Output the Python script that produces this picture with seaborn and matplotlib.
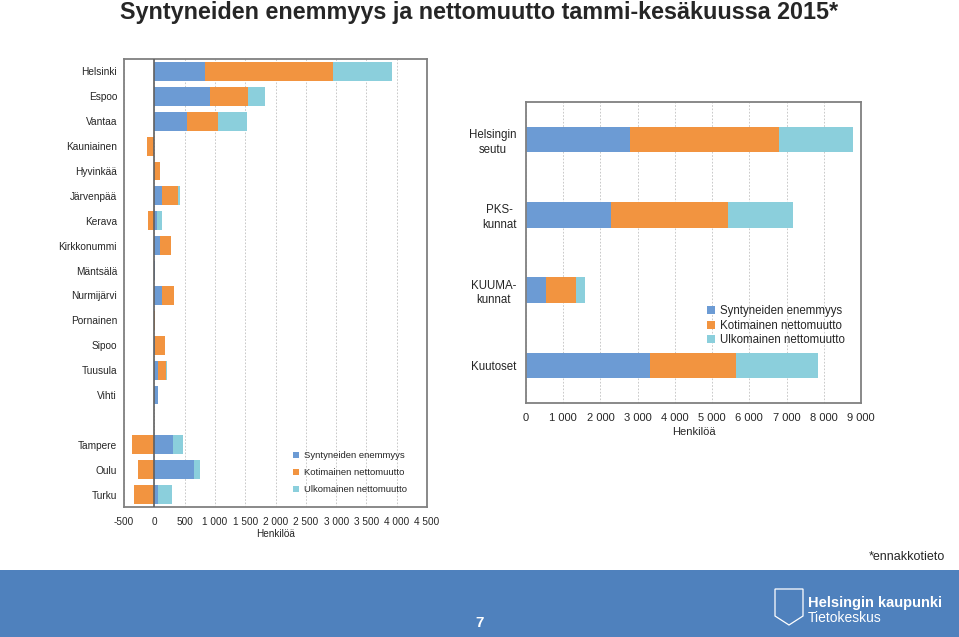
import pandas as pd
import matplotlib.pyplot as plt
import seaborn as sns
from matplotlib.patches import Patch, Rectangle, Polygon

# Kunnat (vasen kuvio), tyhjä rivi Vihdin ja Tampereen välissä
kunnat = ["Helsinki", "Espoo", "Vantaa", "Kauniainen", "Hyvinkää", "Järvenpää", "Kerava",
          "Kirkkonummi", "Mäntsälä", "Nurmijärvi", "Pornainen", "Sipoo", "Tuusula", "Vihti",
          "Tampere", "Oulu", "Turku"]
jarjestys = kunnat[:14] + [" "] + kunnat[14:]
synt = [830, 925, 545, 0, 0, 121, 40, 94, 10, 121, 3, 5, 55, 55, 315, 662, 66]
koti = [2120, 620, 500, -127, 99, 275, -110, 176, 5, 198, 2, 171, 138, 0, -370, -270, -331]
ulko = [980, 275, 485, 0, 0, 28, 80, 5, 0, 0, 0, 0, 16, 0, 165, 94, 227]

# Alueet (oikea kuvio)
alueet = ["Helsingin\nseutu", "PKS-\nkunnat", "KUUMA-\nkunnat", "Kuutoset"]
synt_r = [2794, 2284, 528, 3331]
koti_r = [3994, 3143, 824, 2311]
ulko_r = [1988, 1746, 233, 2212]

sarjat = ["Syntyneiden enemmyys", "Kotimainen nettomuutto", "Ulkomainen nettomuutto"]
varit = ["#6C9BD4", "#F29440", "#8BCFDC"]

sns.set_style("white")
plt.rcParams["font.family"] = ["Liberation Sans", "DejaVu Sans"]

fig = plt.figure(figsize=(9.59, 6.37), dpi=100)
ax1 = fig.add_axes([0.1293, 0.2041, 0.316, 0.7033])
ax2 = fig.add_axes([0.5485, 0.3673, 0.3493, 0.4725])


def pinottu(ax, nimet, arvot, order, leveys):
    # pinotaan positiiviset ja negatiiviset erikseen, piirretään kumulatiiviset summat päällekkäin
    df = pd.DataFrame(dict(zip(sarjat, arvot)))
    pos = df.clip(lower=0).cumsum(axis=1)
    neg = df.clip(upper=0).cumsum(axis=1)
    for s, c in reversed(list(zip(sarjat, varit))):
        for osa in (pos, neg):
            sns.barplot(x=osa[s].values, y=nimet, order=order, color=c, saturation=1,
                        width=leveys, errorbar=None, linewidth=0, ax=ax)


pinottu(ax1, kunnat, [synt, koti, ulko], jarjestys, 0.76)
pinottu(ax2, alueet, [synt_r, koti_r, ulko_r], alueet, 0.34)

kehys = "#808080"
for ax, xmin, xmax, step, koko in [(ax1, -500, 4500, 500, 7.2), (ax2, 0, 9000, 1000, 8)]:
    ticks = list(range(xmin, xmax + 1, step))
    ax.set_xlim(xmin, xmax)
    ax.set_xticks(ticks)
    ax.set_xticklabels([f"{t:,}".replace(",", "\u00a0") for t in ticks])
    ax.grid(axis="x", color="#c0c0c0", linestyle=(0, (2, 2)), linewidth=0.6)
    ax.set_axisbelow(True)
    ax.set_ylabel("")
    ax.set_xlabel("Henkilöä", fontsize=koko)
    for sp in ax.spines.values():
        sp.set_visible(True)
        sp.set_color(kehys)
        sp.set_linewidth(1.3)
    ax.tick_params(axis="x", direction="out", length=3, width=1, color=kehys, labelsize=koko, pad=4)

ax1.xaxis.labelpad = 1.5
ax2.xaxis.labelpad = 3
ax1.tick_params(axis="y", length=0, labelsize=7.3, pad=5)
ax2.tick_params(axis="y", length=0, labelsize=8.3, pad=7)
ax1.axvline(0, color="#606060", linewidth=1.2, zorder=3)
for t in ax2.get_yticklabels():
    t.set_multialignment("center")
    t.set_linespacing(1.3)

kahvat = [Patch(facecolor=c, edgecolor="none", label=s) for s, c in zip(sarjat, varit)]
ax1.legend(handles=kahvat, loc="lower left", bbox_to_anchor=(0.53, 0.01), frameon=False,
           fontsize=6.8, handlelength=0.6, handleheight=0.6, handletextpad=0.5, labelspacing=0.85)
ax2.legend(handles=kahvat, loc="lower left", bbox_to_anchor=(0.51, 0.155), frameon=False,
           fontsize=8.3, handlelength=0.7, handleheight=0.7, handletextpad=0.4, labelspacing=0.2)

fig.text(0.4995, 0.98, "Syntyneiden enemmyys ja nettomuutto tammi-kesäkuussa 2015*",
         ha="center", va="center", fontsize=16.8, fontweight="bold")
fig.text(0.9854, 0.1256, "*ennakkotieto", ha="right", va="center", fontsize=9)

# alapalkki
fig.patches.append(Rectangle((0, 0), 1, 67 / 637, transform=fig.transFigure,
                             facecolor="#4F81BD", edgecolor="none"))
fig.text(480 / 959, 1 - 623 / 637, "7", color="white", fontsize=11, fontweight="bold",
         ha="center", va="center")
kilpi = [(775, 589), (803, 589), (803, 616), (789, 625), (775, 616)]
fig.patches.append(Polygon([(x / 959, 1 - y / 637) for x, y in kilpi], closed=True,
                           transform=fig.transFigure, fill=False, edgecolor="white", linewidth=0.9))
fig.text(808 / 959, 1 - 603 / 637, "Helsingin kaupunki", color="white", fontsize=10.5,
         fontweight="bold", ha="left", va="center")
fig.text(808 / 959, 1 - 618 / 637, "Tietokeskus", color="white", fontsize=10,
         ha="left", va="center")

fig.savefig("out.png", dpi=100)
